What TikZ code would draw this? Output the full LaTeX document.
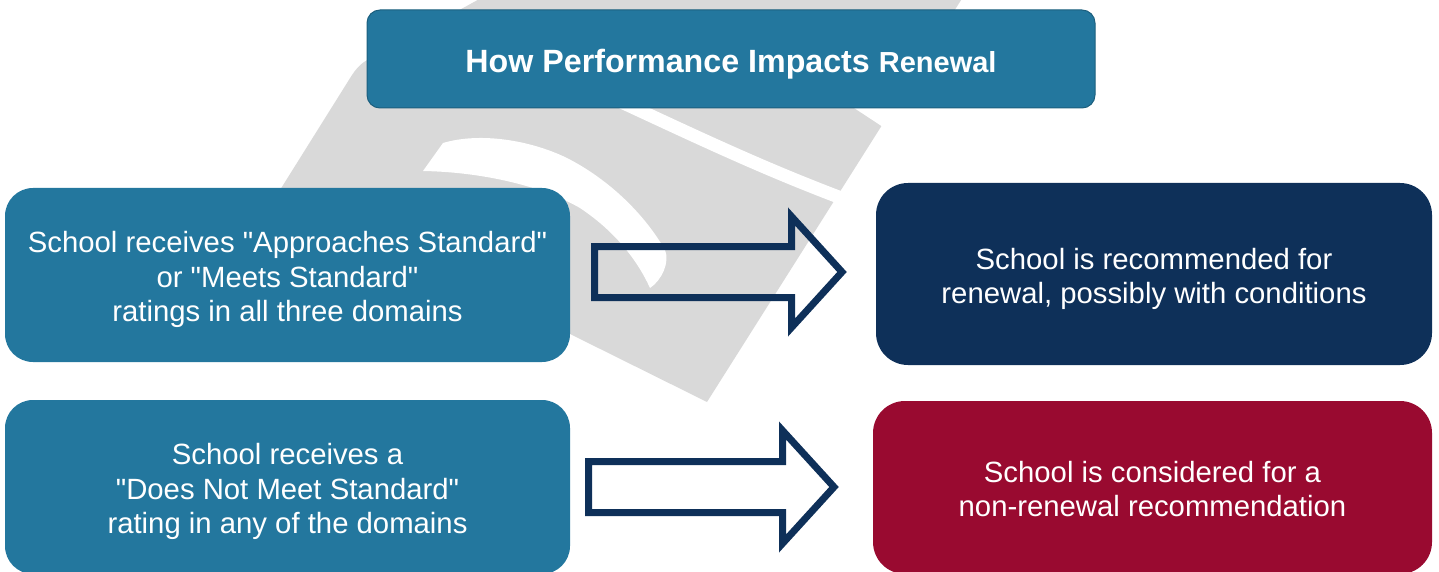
\documentclass[tikz,border=0pt]{standalone}
\usepackage{fontspec}
\setmainfont{Liberation Sans}[Ligatures=TeXOff]
\definecolor{steel}{HTML}{23779E}
\definecolor{navy}{HTML}{0E3059}
\definecolor{crimson}{HTML}{990A30}
\definecolor{wmgrey}{HTML}{D9D9D9}
\newcommand{\lowstrut}{\rule{0pt}{31pt}}
\newcommand{\midstrut}{\rule{0pt}{24pt}}
\newcommand{\titlestrut}{\rule{0pt}{33pt}}
\tikzset{
  box/.style={rectangle, inner sep=0pt, outer sep=0pt, text=white, align=center,
    font=\fontsize{29.3}{34.5}\selectfont},
  titlebox/.style={box, fill=steel, draw=steel!80!black, line width=1pt, rounded corners=13pt,
    minimum width=728pt, minimum height=98pt, font=\bfseries\fontsize{32.2}{36}\selectfont},
  leftbox/.style={box, fill=steel, rounded corners=28pt, minimum width=565pt, minimum height=174pt},
  greatbox/.style={box, fill=navy, rounded corners=32pt, minimum width=556pt, minimum height=182pt},
  redbox/.style={box, fill=crimson, rounded corners=32pt, minimum width=559pt, minimum height=173pt},
  blockarrow/.style={draw=navy, line width=7pt, miter limit=10, line join=miter},
  wm/.style={fill=wmgrey}
}
\begin{document}
\begin{tikzpicture}[x=1pt,y=-1pt]
\useasboundingbox (0,0) rectangle (1439,572);
% watermark
\fill[wm] (483,-3) -- (963,-3) -- (707,402) -- (280,190) -- (352,75)
  .. controls (360,63) and (366,60) .. (378,55) -- cycle;
\draw[white, line width=13pt] (560,74) .. controls (680,128) and (760,170) .. (885,214);
\fill[white] (842,100) -- (905,100) -- (883,127) -- cycle;
\fill[white] (423,171) -- (443,143) .. controls (480,132) and (530,140) .. (567,158)
  .. controls (610,180) and (645,215) .. (665,250)
  .. controls (670,262) and (662,280) .. (650,288)
  .. controls (635,255) and (610,228) .. (580,208)
  .. controls (540,185) and (480,172) .. (423,171) -- cycle;
% nodes
\node[titlebox] (title) at (731,59) {\titlestrut How Performance Impacts {\fontsize{29}{36}\selectfont Renewal}};
\node[leftbox] (l1) at (287.5,275) {\lowstrut School receives "Approaches Standard"\\or "Meets Standard"\\ratings in all three domains};
\node[greatbox] (r1) at (1154,274) {\lowstrut School is recommended for\\renewal, possibly with conditions};
\node[leftbox] (l2) at (287.5,487) {\lowstrut School receives a\\"Does Not Meet Standard"\\rating in any of the domains};
\node[redbox] (r2) at (1152.5,487.5) {\midstrut School is considered for a\\non-renewal recommendation};
% block arrows
\coordinate (a1) at (594.5,272);
\coordinate (a2) at (588.5,487);
\draw[blockarrow] (a1) ++(0,-25.5) -- ++(197,0) -- ++(0,-30) -- ++(50.5,55.5) -- ++(-50.5,55.5) -- ++(0,-30) -- ++(-197,0) -- cycle;
\draw[blockarrow] (a2) ++(0,-25.5) -- ++(194,0) -- ++(0,-31) -- ++(51.5,56.5) -- ++(-51.5,56.5) -- ++(0,-31) -- ++(-194,0) -- cycle;
\end{tikzpicture}
\end{document}
